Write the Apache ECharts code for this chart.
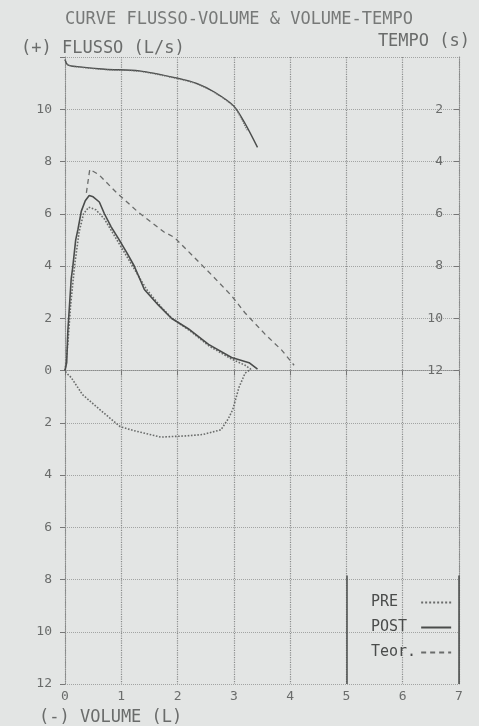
<!DOCTYPE html>
<html lang="it">

<head>
    <meta charset="UTF-8">
    <title>Curve flusso-volume</title>
    <style>
        body { margin: 0; background: #e3e5e4; }
    </style>
</head>

<body>
    <div id="main" style="width:479px; height:726px;"></div>
    <script src="https://cdn.jsdelivr.net/npm/echarts/dist/echarts.min.js"></script>
    <script>
        // curva flusso-volume POST [volume L, flusso L/s]
        var postFV = [[0, 0], [0.03, 0.3], [0.05, 1.5], [0.08, 2.5], [0.11, 3.5], [0.14, 4.0], [0.19, 5.0],
            [0.23, 5.4], [0.29, 6.1], [0.36, 6.5], [0.43, 6.7], [0.5, 6.65], [0.61, 6.45], [0.7, 6.0],
            [0.82, 5.5], [0.95, 5.05], [1.1, 4.5], [1.23, 4.0], [1.41, 3.1], [1.66, 2.5], [1.89, 2.0],
            [2.19, 1.6], [2.55, 1.0], [2.96, 0.5], [3.27, 0.3], [3.42, 0.05]];
        // curva PRE, espirazione + inspirazione (flusso negativo)
        var preFV = [[0, 0], [0.05, 1.0], [0.1, 2.5], [0.17, 4.0], [0.25, 5.3], [0.33, 6.0], [0.42, 6.25],
            [0.55, 6.15], [0.7, 5.8], [0.95, 4.9], [1.2, 4.0], [1.45, 3.1], [1.7, 2.45], [1.9, 2.0],
            [2.2, 1.55], [2.55, 0.95], [2.95, 0.45], [3.2, 0.2], [3.3, 0.05], [3.2, -0.1],
            [3.09, -0.65], [2.98, -1.5], [2.9, -1.85], [2.77, -2.27], [2.45, -2.45], [2.17, -2.5],
            [1.7, -2.55], [1.22, -2.3], [0.98, -2.15], [0.62, -1.5], [0.31, -0.92], [0.11, -0.27],
            [0.02, -0.08], [0, 0]];
        // teorico
        var teorFV = [[0.38, 6.8], [0.44, 7.7], [0.6, 7.5], [0.92, 6.8], [1.28, 6.1], [1.76, 5.3],
            [1.94, 5.1], [2.25, 4.43], [2.61, 3.65], [2.96, 2.86], [3.2, 2.2], [3.55, 1.4],
            [3.85, 0.78], [4.07, 0.2]];
        // curve volume-tempo [volume L, tempo s]
        var postVT = [[0, 0.1], [0.05, 0.3], [0.22, 0.37], [0.71, 0.47], [1.32, 0.53], [2.0, 0.81],
            [2.35, 1.02], [2.66, 1.35], [3.0, 1.88], [3.2, 2.55], [3.42, 3.46]];
        var preVT = [[0, 0.1], [0.05, 0.3], [0.22, 0.38], [0.71, 0.48], [1.32, 0.55], [2.0, 0.83],
            [2.35, 1.04], [2.66, 1.37], [3.0, 1.9], [3.14, 2.4], [3.25, 2.85]];

        var volTicks = [0, 7, 1];
        var flowLabels = [-12, 12, 2];
        var timeLabels = [2, 4, 6, 8, 10, 12];

        var ink = '#4a4c4b';
        var faint = '#6a6c6b';
        var mono = 'DejaVu Sans Mono';

        var myChart = echarts.init(document.getElementById('main'));
        myChart.setOption({
            backgroundColor: '#e3e5e4',
            animation: false,
            title: [
                { text: 'CURVE FLUSSO-VOLUME & VOLUME-TEMPO', left: 60, top: 6,
                    textStyle: { fontFamily: mono, fontSize: 17, fontWeight: 'normal', color: '#777978' } },
                { text: '(+) FLUSSO (L/s)', left: 16, top: 35,
                    textStyle: { fontFamily: mono, fontSize: 17, fontWeight: 'normal', color: faint } },
                { text: 'TEMPO (s)', right: 4, top: 28,
                    textStyle: { fontFamily: mono, fontSize: 17, fontWeight: 'normal', color: faint } },
                { text: '(-) VOLUME (L)', left: 34, top: 704,
                    textStyle: { fontFamily: mono, fontSize: 17, fontWeight: 'normal', color: faint } }
            ],
            legend: {
                orient: 'vertical',
                left: 366,
                top: 590,
                align: 'right',
                itemGap: 10,
                itemWidth: 30,
                itemHeight: 14,
                data: ['PRE', 'POST', 'Teor.'],
                itemStyle: { opacity: 0 },
                formatter: function (name) { return (name + '     ').slice(0, 5); },
                textStyle: { fontFamily: mono, fontSize: 15, color: ink }
            },
            grid: { left: 65, right: 20, top: 57, bottom: 42 },
            xAxis: {
                type: 'value',
                min: volTicks[0],
                max: volTicks[1],
                interval: volTicks[2],
                axisLine: { lineStyle: { color: '#8a8c8b', type: 'dotted' } },
                axisTick: { show: true, length: 5, lineStyle: { color: '#777' } },
                axisLabel: { fontFamily: mono, fontSize: 13, color: faint, margin: 6 },
                splitLine: { lineStyle: { color: '#8a8c8b', type: 'dotted', width: 1.2 } }
            },
            yAxis: [
                {
                    type: 'value',
                    min: flowLabels[0],
                    max: flowLabels[1],
                    interval: flowLabels[2],
                    axisLine: { show: true, lineStyle: { color: '#8a8c8b', type: 'dotted' } },
                    axisTick: { show: true, length: 5, lineStyle: { color: '#777' } },
                    axisLabel: {
                        fontFamily: mono, fontSize: 13, color: faint, margin: 13,
                        formatter: function (v) { return v === 12 ? '' : String(Math.abs(v)); }
                    },
                    splitLine: { lineStyle: { color: '#a2a4a3', type: 'dotted' } }
                },
                {
                    type: 'value',
                    position: 'right',
                    inverse: true,
                    min: 0,
                    max: 24,
                    interval: 2,
                    axisLine: { show: true, lineStyle: { color: '#8a8c8b', type: 'dotted' } },
                    axisTick: {
                        show: true, inside: true, length: 5, lineStyle: { color: '#777' },
                        customValues: timeLabels
                    },
                    axisLabel: {
                        inside: true, fontFamily: mono, fontSize: 13, color: faint, margin: 16,
                        customValues: timeLabels
                    },
                    splitLine: { show: false }
                }
            ],
            series: [
                {
                    name: 'PRE', type: 'line', data: preFV, showSymbol: false, symbol: 'none',
                    lineStyle: { color: faint, width: 1.6, type: 'dotted' }, itemStyle: { color: faint }
                },
                {
                    name: 'POST', type: 'line', data: postFV, showSymbol: false, symbol: 'none',
                    lineStyle: { color: ink, width: 1.6 }, itemStyle: { color: ink },
                    // riquadro legenda
                    markLine: {
                        silent: true, symbol: 'none', label: { show: false },
                        lineStyle: { color: ink, width: 1.5, type: 'solid' },
                        data: [
                            [{ coord: [5, -7.85] }, { coord: [5, -12] }],
                            [{ coord: [7, -7.85] }, { coord: [7, -12] }]
                        ]
                    }
                },
                {
                    name: 'Teor.', type: 'line', data: teorFV, showSymbol: false, symbol: 'none',
                    lineStyle: { color: faint, width: 1.3, type: [5, 4] }, itemStyle: { color: faint }
                },
                {
                    name: 'POST', type: 'line', yAxisIndex: 1, data: postVT, showSymbol: false, symbol: 'none',
                    smooth: 0.3, lineStyle: { color: ink, width: 1.4 }
                },
                {
                    name: 'PRE', type: 'line', yAxisIndex: 1, data: preVT, showSymbol: false, symbol: 'none',
                    smooth: 0.3, lineStyle: { color: faint, width: 1.2, type: 'dotted' }
                }
            ]
        });
    </script>
</body>

</html>
